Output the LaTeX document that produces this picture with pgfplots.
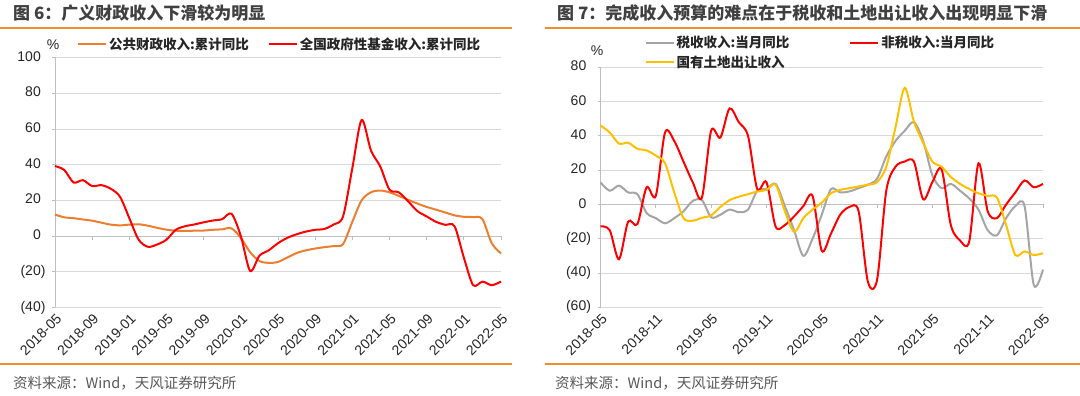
\documentclass[border=0pt]{standalone}
\usepackage{pgfplots}
\usepackage{pgfplotstable}
\pgfplotsset{compat=1.18}
\usepackage{fontspec}
\setmainfont{Liberation Sans}
\newfontfamily\cjk{Noto Sans CJK SC}
\definecolor{lorange}{HTML}{ED7D31}
\definecolor{lred}{HTML}{FF0000}
\definecolor{lgray}{HTML}{A5A5A5}
\definecolor{lyellow}{HTML}{FFC000}
\definecolor{sepc}{HTML}{F08C2E}
\definecolor{gridc}{HTML}{D9D9D9}
\definecolor{axc}{HTML}{BFBFBF}
\definecolor{titc}{HTML}{404040}
\definecolor{srcc}{HTML}{595959}
\definecolor{txtc}{HTML}{262626}

% Left chart: month index 0 = 2018-05
\pgfplotstableread{
m v
0 12
1 10.5
2 10
3 9.3
4 8.6
5 7.5
6 6.4
7 6
8 6.4
9 6.6
10 5.8
11 4.6
12 3.6
13 3
14 2.9
15 3
16 3.1
17 3.5
18 3.8
19 4.3
20 -1
21 -9
22 -14
23 -15
24 -14.5
25 -12
26 -9.5
27 -8
28 -7
29 -6.2
30 -5.6
31 -4.5
32 8
33 20
34 24.5
35 25.5
36 24.5
37 22.5
38 20.3
39 18.2
40 16.3
41 14.8
42 13.2
43 11.6
44 10.8
45 10.6
46 9.5
47 -4
48 -9.7
}\pubtab

\pgfplotstableread{
m v
0 39.2
1 37
2 30
3 31.3
4 28
5 28.5
6 26.5
7 22
8 10
9 -2
10 -6
11 -4.7
12 -2
13 3.5
14 5.5
15 6.5
16 7.7
17 8.7
18 9.5
19 12.5
20 0
21 -19.5
22 -11
23 -8
24 -4
25 -1
26 1
27 2.5
28 3.5
29 4
30 6.5
31 11
32 38
33 65
34 48
35 39
36 26
37 24.5
38 19.5
39 14
40 11
41 8
42 6.3
43 5.5
44 -12
45 -27.5
46 -25.5
47 -27.5
48 -25.5
}\fundtab

% Right chart
\pgfplotstableread{
m v
0 12.8
1 8
2 11
3 7
4 6
5 -5
6 -8
7 -11
8 -8
9 -4
10 2
11 2.5
12 -7.5
13 -6
14 -3
15 -4.5
16 -3
17 8
18 9
19 12
20 -1
21 -15
22 -30
23 -20
24 -6
25 9
26 7
27 7.6
28 9.5
29 11.5
30 15
31 28
32 37
33 43
34 48
35 37
36 17
37 9.5
38 12
39 8
40 3.5
41 -3
42 -15
43 -18
44 -8
45 -1
46 -1
47 -47
48 -38
}\taxtab

\pgfplotstableread{
m v
0 -12.8
1 -15
2 -32
3 -10
4 -11.5
5 10
6 5
7 42
8 37
9 25
10 13
11 4
12 43
13 39
14 56
15 48
16 40
17 9
18 13
19 -13
20 -12
21 -7
22 -1
23 5
24 -27
25 -17
26 -6
27 -1.5
28 -4
29 -45
30 -44
31 8
32 22
33 25
34 25
35 3
36 13
37 20.5
38 -12
39 -21
40 -21.5
41 24
42 -4
43 -8
44 0
45 7
46 14
47 10
48 12
}\nontaxtab

\pgfplotstableread{
m v
0 46
1 42
2 35.5
3 36
4 32.5
5 31.5
6 28.5
7 24
8 7
9 -8
10 -9.5
11 -7.8
12 -6.4
13 -1.5
14 2.5
15 4.5
16 6
17 7.5
18 8.5
19 11.5
20 -4
21 -16
22 -8
23 -3
24 1
25 6.5
26 8.5
27 9.5
28 10.5
29 11.5
30 13
31 22
32 45
33 68
34 48.3
35 36
36 25
37 22
38 16
39 12
40 9
41 6.5
42 5
43 4
44 -12
45 -29.5
46 -27.4
47 -29.5
48 -28.5
}\landtab

\pgfplotsset{
  mystyle/.style={
    scale only axis, anchor=south west,
    xmin=0, xmax=48,
    axis x line*=bottom, axis y line*=left,
    x axis line style={draw=none},
    y axis line style={axc, line width=0.8pt},
    xtick style={draw=none},
    ytick style={axc, line width=0.8pt},
    tick align=outside, major tick length=3pt,
    ymajorgrids, grid style={gridc, line width=0.8pt},
    tick label style={font=\fontsize{14}{14}\selectfont, text=txtc},
    xticklabel style={rotate=45, anchor=east, yshift=-7pt, xshift=2pt},
    yticklabel style={xshift=-3pt},
    clip=false,
    legend style={draw=none, fill=none, inner sep=0pt,
      font=\cjk\bfseries\fontsize{13.5}{13.5}\selectfont, text=txtc,
      legend cell align=left},
    legend image code/.code={\draw[##1, line width=2pt] (0pt,0pt) -- (28pt,0pt);},
    every axis plot/.append style={line width=2pt, smooth, tension=0.5, no markers},
  },
}

\begin{document}
\begin{tikzpicture}[x=1pt,y=1pt]
\useasboundingbox (0,0) rectangle (1080,396);
\fill[white] (0,0) rectangle (1080,396);

% ---------- Left chart ----------
\node[anchor=west, inner sep=0, font=\cjk\bfseries\fontsize{17}{17}\selectfont, text=titc] at (13,383) {图 6：广义财政收入下滑较为明显};
\draw[sepc, line width=2pt] (0,367.7) -- (512,367.7);
\draw[sepc, line width=2pt] (0,32) -- (512,32);
\node[anchor=west, inner sep=0, font=\cjk\fontsize{14.5}{14.5}\selectfont, text=srcc] at (13,13.3) {资料来源：Wind，天风证券研究所};
\node[font=\fontsize{14}{14}\selectfont, text=txtc] at (53,351) {\%};

\begin{axis}[mystyle,
  at={(55pt,88.5pt)}, width=446pt, height=250pt,
  ymin=-40, ymax=100,
  ytick={-40,-20,0,20,40,60,80,100},
  yticklabels={(40),(20),0\phantom{)},20\phantom{)},40\phantom{)},60\phantom{)},80\phantom{)},100\phantom{)}},
  xtick={0,4,...,48},
  xticklabels={2018-05,2018-09,2019-01,2019-05,2019-09,2020-01,2020-05,2020-09,2021-01,2021-05,2021-09,2022-01,2022-05},
  legend columns=2,
  legend style={at={(axis description cs:0.049,1.054)}, anchor=west,
    /tikz/every even column/.append style={column sep=17pt}},
]
\draw[axc, line width=0.8pt] (axis cs:0,0) -- (axis cs:48,0);
\pgfplotsinvokeforeach{0,4,...,48}{\draw[axc, line width=0.8pt] (axis cs:#1,0) -- ++(0pt,-4pt);}
\addplot[lorange] table[x=m,y=v] {\pubtab};
\addlegendentry{公共财政收入:累计同比}
\addplot[lred] table[x=m,y=v] {\fundtab};
\addlegendentry{全国政府性基金收入:累计同比}
\end{axis}

% ---------- Right chart ----------
\node[anchor=west, inner sep=0, font=\cjk\bfseries\fontsize{17}{17}\selectfont, text=titc] at (557,383) {图 7：完成收入预算的难点在于税收和土地出让收入出现明显下滑};
\draw[sepc, line width=2pt] (545,367.7) -- (1080,367.7);
\draw[sepc, line width=2pt] (545,32) -- (1080,32);
\node[anchor=west, inner sep=0, font=\cjk\fontsize{14.5}{14.5}\selectfont, text=srcc] at (555,13.3) {资料来源：Wind，天风证券研究所};
\node[font=\fontsize{14}{14}\selectfont, text=txtc] at (597,345) {\%};

\begin{axis}[mystyle,
  at={(600.5pt,88.7pt)}, width=442.5pt, height=240pt,
  ymin=-60, ymax=80,
  ytick={-60,-40,-20,0,20,40,60,80},
  yticklabels={(60),(40),(20),0\phantom{)},20\phantom{)},40\phantom{)},60\phantom{)},80\phantom{)}},
  xtick={0,6,...,48},
  xticklabels={2018-05,2018-11,2019-05,2019-11,2020-05,2020-11,2021-05,2021-11,2022-05},
  legend columns=2,
  legend style={at={(axis description cs:0.0994,1.138)}, anchor=north west,
    /tikz/every even column/.append style={column sep=58pt},
    /tikz/every odd row/.append style={row sep=2pt}},
]
\draw[axc, line width=0.8pt] (axis cs:0,0) -- (axis cs:48,0);
\pgfplotsinvokeforeach{0,6,...,48}{\draw[axc, line width=0.8pt] (axis cs:#1,0) -- ++(0pt,-4pt);}
\addplot[lgray] table[x=m,y=v] {\taxtab};
\addlegendentry{税收收入:当月同比}
\addplot[lred] table[x=m,y=v] {\nontaxtab};
\addlegendentry{非税收入:当月同比}
\addplot[lyellow] table[x=m,y=v] {\landtab};
\addlegendentry{国有土地出让收入}
\end{axis}
\end{tikzpicture}
\end{document}
